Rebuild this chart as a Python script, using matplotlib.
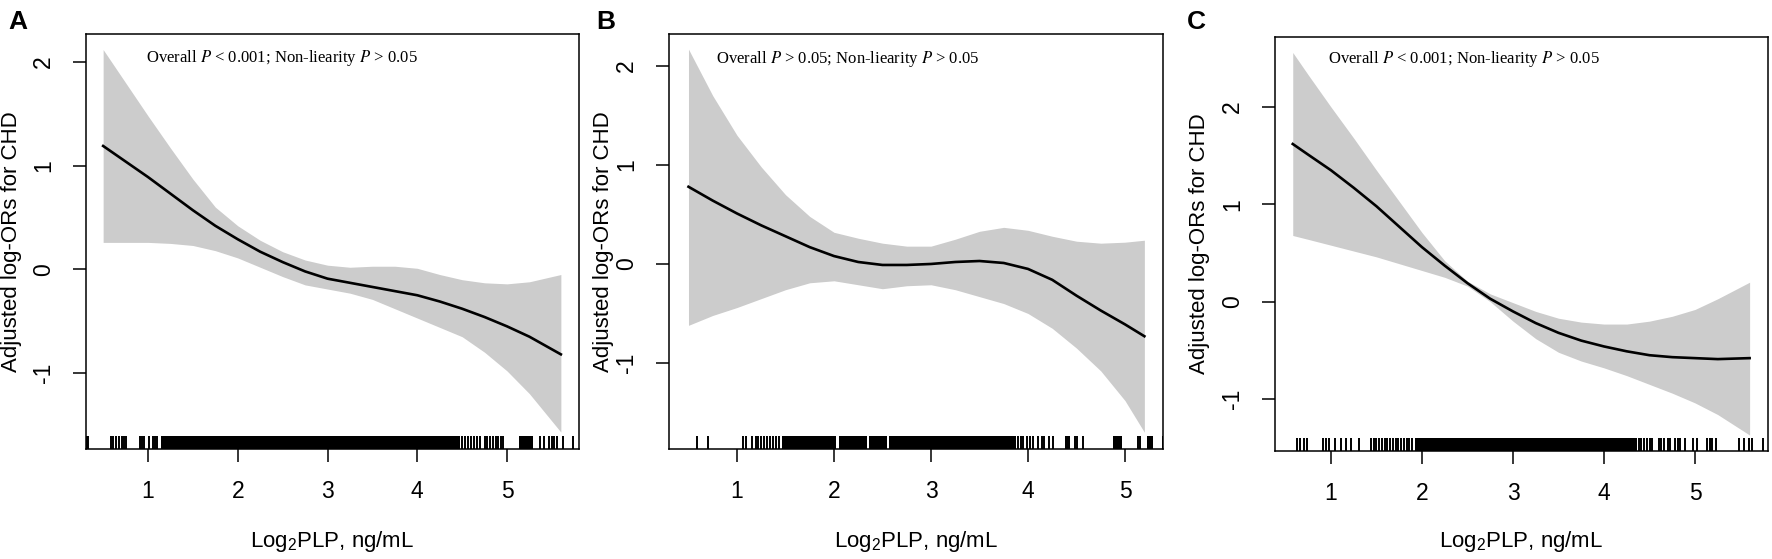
import matplotlib
matplotlib.use('Agg')
import matplotlib.pyplot as plt

plt.rcParams['font.family'] = ['Liberation Sans', 'DejaVu Sans']
plt.rcParams['axes.unicode_minus'] = False
plt.rcParams['mathtext.fontset'] = 'custom'
plt.rcParams['mathtext.rm'] = 'Liberation Sans'
plt.rcParams['mathtext.it'] = 'Liberation Sans:italic'

# Panel A
x_a = [0.5, 0.75, 1.0, 1.25, 1.5, 1.75, 2.0, 2.25, 2.5, 2.75, 3.0, 3.25, 3.5,
       3.75, 4.0, 4.25, 4.5, 4.75, 5.0, 5.25, 5.6]
fit_a = [1.19, 1.04, 0.89, 0.73, 0.57, 0.42, 0.29, 0.17, 0.07, -0.02, -0.09, -0.13,
         -0.17, -0.21, -0.25, -0.31, -0.38, -0.46, -0.55, -0.65, -0.82]
up_a = [2.12, 1.80, 1.48, 1.17, 0.87, 0.60, 0.42, 0.28, 0.17, 0.09, 0.04, 0.02,
        0.03, 0.03, 0.01, -0.05, -0.10, -0.13, -0.14, -0.12, -0.05]
lo_a = [0.26, 0.26, 0.26, 0.25, 0.23, 0.18, 0.11, 0.02, -0.07, -0.15, -0.19, -0.23,
        -0.29, -0.38, -0.47, -0.56, -0.65, -0.80, -0.98, -1.20, -1.57]
rug_a = [0.32, 0.33, 0.59, 0.61, 0.64, 0.68, 0.71, 0.73, 0.75, 0.91, 0.93, 0.95,
         1.01, 1.06, 1.08, 1.10, 4.50, 4.53, 4.57, 4.60, 4.63, 4.67, 4.70, 4.75,
         4.78, 4.81, 4.84, 4.88, 4.90, 4.93, 4.96, 5.37, 5.41, 5.47, 5.50, 5.52,
         5.56, 5.62, 5.74]
rug_dense_a = [(1.14, 4.48), (5.13, 5.29)]

# Panel B
x_b = [0.5, 0.75, 1.0, 1.25, 1.5, 1.75, 2.0, 2.25, 2.5, 2.75, 3.0, 3.25, 3.5,
       3.75, 4.0, 4.25, 4.5, 4.75, 5.0, 5.2]
fit_b = [0.78, 0.64, 0.51, 0.39, 0.28, 0.17, 0.08, 0.02, -0.01, -0.01, 0.00, 0.02,
         0.03, 0.01, -0.05, -0.16, -0.32, -0.47, -0.61, -0.73]
up_b = [2.17, 1.70, 1.30, 0.98, 0.70, 0.48, 0.32, 0.26, 0.21, 0.18, 0.18, 0.25,
        0.33, 0.37, 0.34, 0.28, 0.23, 0.21, 0.22, 0.24]
lo_b = [-0.62, -0.52, -0.44, -0.35, -0.26, -0.19, -0.17, -0.21, -0.25, -0.22, -0.21,
        -0.26, -0.33, -0.40, -0.50, -0.65, -0.85, -1.08, -1.38, -1.70]
rug_b = [0.59, 0.70, 1.06, 1.09, 1.15, 1.20, 1.22, 1.25, 1.28, 1.31, 1.34, 1.37,
         1.40, 1.43, 3.90, 3.93, 3.95, 3.99, 4.02, 4.05, 4.10, 4.14, 4.16, 4.22,
         4.26, 4.48, 4.51, 4.57, 5.13, 5.15, 5.39]
rug_dense_b = [(1.46, 2.02), (2.05, 2.34), (2.36, 2.55), (2.57, 3.88), (4.38, 4.43),
               (4.88, 4.97), (5.23, 5.29)]

# Panel C
x_c = [0.58, 0.75, 1.0, 1.25, 1.5, 1.75, 2.0, 2.25, 2.5, 2.75, 3.0, 3.25, 3.5,
       3.75, 4.0, 4.25, 4.5, 4.75, 5.0, 5.25, 5.6]
fit_c = [1.62, 1.51, 1.35, 1.17, 0.98, 0.77, 0.56, 0.37, 0.19, 0.03, -0.10, -0.22,
         -0.32, -0.40, -0.46, -0.51, -0.55, -0.57, -0.58, -0.59, -0.58]
up_c = [2.56, 2.33, 2.00, 1.68, 1.35, 1.03, 0.71, 0.42, 0.21, 0.08, -0.01, -0.10,
        -0.17, -0.21, -0.23, -0.23, -0.20, -0.15, -0.08, 0.03, 0.20]
lo_c = [0.68, 0.64, 0.58, 0.52, 0.46, 0.39, 0.32, 0.25, 0.16, 0.00, -0.20, -0.38,
        -0.52, -0.61, -0.68, -0.76, -0.85, -0.94, -1.04, -1.16, -1.37]
rug_c = [0.63, 0.66, 0.70, 0.74, 0.91, 0.94, 0.98, 1.04, 1.11, 1.16, 1.22, 1.31,
         1.44, 1.47, 1.50, 1.53, 1.56, 1.59, 1.62, 1.65, 1.68, 1.71, 1.74, 1.77,
         1.80, 1.83, 1.86, 1.89, 4.38, 4.41, 4.44, 4.47, 4.50, 4.53, 4.60, 4.63,
         4.66, 4.70, 4.73, 4.78, 4.81, 4.84, 4.89, 4.98, 5.02, 5.13, 5.16, 5.19,
         5.23, 5.48, 5.54, 5.59, 5.63, 5.75]
rug_dense_c = [(1.92, 4.36)]

x_ticks = [1, 2, 3, 4, 5]
y_ticks = [-1, 0, 1, 2]
notes = ['Overall $P$ < 0.001; Non-liearity $P$ > 0.05',
         'Overall $P$ > 0.05; Non-liearity $P$ > 0.05',
         'Overall $P$ < 0.001; Non-liearity $P$ > 0.05']
letters = ['A', 'B', 'C']

W, H = 1772, 559
fig = plt.figure(figsize=(W / 100, H / 100), dpi=100)

# pixel boxes: left, right, top, bottom
boxes = [(86, 579, 34, 449), (669, 1163, 34, 449), (1275, 1768, 37, 451)]
xlims = [(0.309, 5.802), (0.299, 5.392), (0.385, 5.802)]
ylims = [(-1.733, 2.27), (-1.869, 2.323), (-1.534, 2.719)]
ylab_x = [12, 604, 1200]
letter_x = [8, 596, 1187]
note_x = [146, 716, 1328]
note_y = [58, 59, 59]

panels = [(x_a, fit_a, up_a, lo_a, rug_a, rug_dense_a),
          (x_b, fit_b, up_b, lo_b, rug_b, rug_dense_b),
          (x_c, fit_c, up_c, lo_c, rug_c, rug_dense_c)]

for i, (xs, fit, up, lo, rug, dense) in enumerate(panels):
    l, r, t, b = boxes[i]
    ax = fig.add_axes([l / W, 1 - b / H, (r - l) / W, (b - t) / H])
    ax.fill_between(xs, lo, up, color='#cccccc', lw=0)
    ax.plot(xs, fit, color='black', lw=1.9)

    # rug along the bottom
    tr = ax.get_xaxis_transform()
    ax.vlines(rug, 0, 0.032, transform=tr, color='black', lw=1.4)
    for x0, x1 in dense:
        ax.axvspan(x0, x1, ymin=0, ymax=0.032, color='black', lw=0)

    ax.set_xlim(*xlims[i])
    ax.set_ylim(*ylims[i])
    ax.set_xticks(x_ticks)
    ax.set_yticks(y_ticks)
    ax.set_xticklabels([str(v) for v in x_ticks])
    ax.set_yticklabels([str(v) for v in y_ticks], rotation=90, va='center')
    ax.tick_params(direction='out', length=9.4, width=1.1, labelsize=16.5, pad=13)
    for s in ax.spines.values():
        s.set_linewidth(1.1)

    ax.text((note_x[i] - l) / (r - l), 1 - (note_y[i] - t) / (b - t), notes[i],
            transform=ax.transAxes, ha='left', va='center', fontsize=12,
            family='Liberation Serif', math_fontfamily='stix')

    cy = 1 - (t + b) / 2 / H
    fig.text(ylab_x[i] / W, cy, 'Adjusted log-ORs for CHD', rotation=90,
             ha='center', va='center', fontsize=16)
    fig.text((l + r) / 2 / W, 1 - 542 / H, 'Log$_2$PLP, ng/mL',
             ha='center', va='center', fontsize=16)
    fig.text(letter_x[i] / W, 1 - 22 / H, letters[i], ha='left', va='center',
             fontsize=19, fontweight='bold')

fig.savefig('out.png', dpi=100)
